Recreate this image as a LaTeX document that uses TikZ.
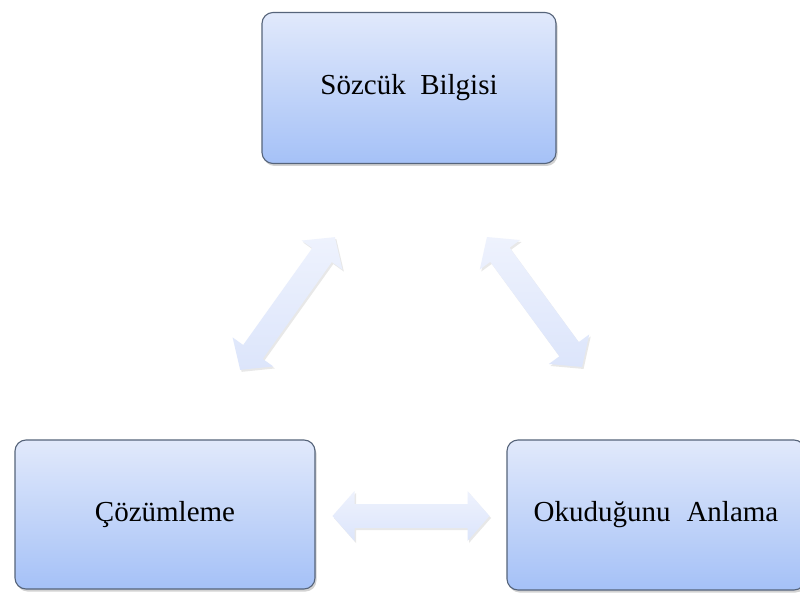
\documentclass[tikz,border=0pt]{standalone}
\usepackage{fontspec}
\setmainfont{Liberation Serif}
\usetikzlibrary{shadows,calc}
\definecolor{boxtop}{HTML}{E1E9FB}
\definecolor{boxbot}{HTML}{A5C1F7}
\definecolor{boxline}{HTML}{56647A}
\definecolor{arrA}{HTML}{DCE5FB}
\definecolor{arrB}{HTML}{EEF2FD}
\tikzset{
  conceptbox/.style={rectangle, rounded corners=11pt, draw=boxline, line width=1.1pt,
    top color=boxtop, bottom color=boxbot, font=\fontsize{29}{34}\selectfont,
    drop shadow={opacity=0.35, shadow xshift=1.5pt, shadow yshift=-2.5pt}},
  blockarrow/.style={top color=arrB, bottom color=arrA, draw=none,
    drop shadow={opacity=0.18, shadow xshift=1.5pt, shadow yshift=-2pt}}
}
% #1 center, #2 angle, #3 half length
\newcommand{\dblarrow}[3]{%
  \begin{scope}[shift={#1}, rotate=#2]
    \path[blockarrow] (-#3,0) -- (-#3+22,25) -- (-#3+22,12) -- (#3-22,12) -- (#3-22,25)
      -- (#3,0) -- (#3-22,-25) -- (#3-22,-12) -- (-#3+22,-12) -- (-#3+22,-25) -- cycle;
  \end{scope}}
\begin{document}
\begin{tikzpicture}[x=1pt,y=-1pt]
\useasboundingbox (0,0) rectangle (800,596);
\clip (0,0) rectangle (800,596);
\fill[white] (0,0) rectangle (800,596);
\node[conceptbox, minimum width=294pt, minimum height=151pt] (sb) at (409,88) {Sözcük\hspace{0.5em}Bilgisi};
\node[conceptbox, minimum width=300pt, minimum height=149pt] (cz) at (165,514.5) {Çözümleme};
\node[conceptbox, minimum width=298pt, minimum height=150pt] (oa) at (656,515) {Okuduğunu\hspace{0.55em}Anlama\hspace{18pt}};
\coordinate (al) at (287.5,303.5);
\coordinate (ar) at (534.5,302);
\coordinate (ah) at (411,516);
\dblarrow{(al)}{54.5}{81.5}
\dblarrow{(ar)}{-53.8}{80.5}
\dblarrow{(ah)}{0}{78.5}
\end{tikzpicture}
\end{document}
